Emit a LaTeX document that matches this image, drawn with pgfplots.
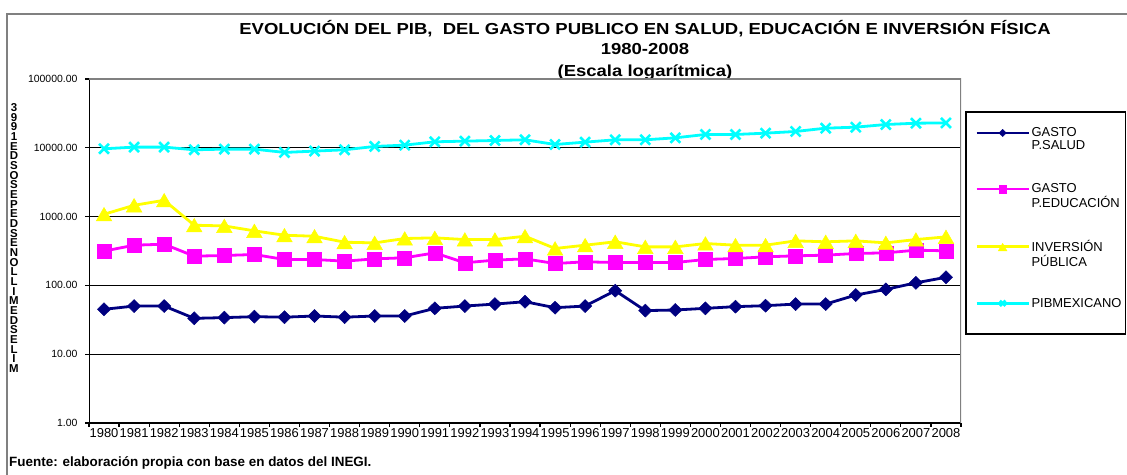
\documentclass[border=0pt]{standalone}
\usepackage{fontspec}
\setmainfont{Liberation Sans}
\usepackage{graphicx}
\usepackage{pgfplots}
\usepackage{pgfplotstable}
\pgfplotsset{compat=1.18}

\definecolor{cnavy}{RGB}{0,0,128}
\definecolor{cmag}{RGB}{255,0,255}
\definecolor{cyel}{RGB}{255,255,0}
\definecolor{ccyan}{RGB}{0,255,255}
\definecolor{frgray}{RGB}{128,128,128}

\pgfplotstableread{
idx salud educ inv pib
0 44.9 315 1081 9670
1 50.1 384 1459 10230
2 50.1 397 1725 10230
3 33.2 266 749 9350
4 34.0 272 732 9560
5 35.1 281 620 9560
6 34.5 238 536 8560
7 35.9 238 518 8950
8 34.5 225 424 9350
9 35.9 243 415 10460
10 35.9 252 480 10930
11 46.4 297 491 12220
12 50.1 213 464 12490
13 53.5 233 464 12770
14 57.9 243 518 13060
15 47.4 208 344 11170
16 50.1 220 384 12080
17 83.8 215 430 13060
18 43.0 215 363 13060
19 43.9 215 363 13960
20 46.4 238 406 15610
21 49.1 246 384 15610
22 50.7 260 384 16320
23 53.5 269 444 17260
24 53.5 275 430 19280
25 72.4 291 444 19950
26 87.5 297 415 21790
27 109 325 464 22770
28 131 318 507 23000
}\datatable

\begin{document}
\begin{tikzpicture}[x=1bp,y=1bp]
\path[use as bounding box] (0,0) rectangle (1127,475);
% outer frame
\draw[frgray, line width=1.5bp] (7,0) -- (7,461) -- (1127,461);
% titles
\node[anchor=base, font=\fontsize{16}{16}\selectfont\bfseries] at (645,440.7)
  {\scalebox{1.16}[1]{EVOLUCIÓN DEL PIB,\ \ DEL GASTO PUBLICO EN SALUD, EDUCACIÓN E INVERSIÓN FÍSICA}};
\node[anchor=base, font=\fontsize{16}{16}\selectfont\bfseries] at (645,420.5)
  {\scalebox{1.16}[1]{1980-2008}};
\node[anchor=base, font=\fontsize{16}{16}\selectfont\bfseries] at (645,398.5)
  {\scalebox{1.16}[1]{(Escala logarítmica)}};
% source
\node[anchor=base west, inner sep=0, font=\fontsize{13.5}{13.5}\selectfont\bfseries] at (9,8.3)
  {Fuente: elaboración propia con base en datos del INEGI.};
% y label (stacked letters)
\node[align=center, inner sep=0, font=\fontsize{11.5}{9.7}\selectfont\bfseries] at (14,237)
  {3\\9\\9\\1\\E\\D\\S\\O\\S\\E\\P\\E\\D\\S\\E\\N\\O\\L\\L\\I\\M\\E\\D\\S\\E\\L\\I\\M};
% legend box
\draw[black, line width=1.5bp] (966,141) rectangle (1125.5,363);

\begin{axis}[
  at={(89bp,52bp)}, anchor=south west,
  width=872bp, height=344bp, scale only axis,
  ymode=log, ymin=1, ymax=100000,
  xmin=-0.5, xmax=28.5,
  axis line style={draw=none},
  tick pos=left,
  tick align=outside,
  major tick length=4bp,
  every tick/.style={black, line width=1.2bp},
  ytick={1,10,100,1000,10000,100000},
  yticklabels={1.00,10.00,100.00,1000.00,10000.00,100000.00},
  yminorticks=false,
  ymajorgrids,
  major grid style={black, line width=0.7bp},
  xtick={-0.5,0.5,...,28.5},
  xticklabels={},
  extra x ticks={0,...,28},
  extra x tick labels={1980,1981,1982,1983,1984,1985,1986,1987,1988,1989,1990,1991,1992,1993,1994,1995,1996,1997,1998,1999,2000,2001,2002,2003,2004,2005,2006,2007,2008},
  extra x tick style={major tick length=0pt, xticklabel style={yshift=-4bp}},
  x tick label style={font=\fontsize{13}{13}\selectfont, inner sep=1bp},
  y tick label style={font=\fontsize{10.5}{10.5}\selectfont, xshift=-4bp},
  legend style={at={(1.0161,0.8634)}, anchor=north west, draw=none, fill=none,
    font=\fontsize{13}{13}\selectfont, row sep=42.5bp, inner sep=0pt,
    nodes={inner sep=1.5bp}},
  legend cell align=left,
  legend image code/.code={\draw[mark repeat=2,mark phase=2,#1] plot coordinates {(0bp,0bp) (26bp,0bp) (52bp,0bp)};},
  legend image post style={every mark/.append style={scale=0.55}},
]
\addplot[cnavy, line width=2.8bp, mark=diamond*, mark size=6.5bp,
  mark options={solid, xscale=1.35, line width=0.5bp}] table[x=idx, y=salud] {\datatable};
\addlegendentry{\begin{tabular}[t]{@{}l@{}}GASTO\\P.SALUD\end{tabular}}
\addplot[cmag, line width=2.8bp, mark=square*, mark size=7bp,
  mark options={solid, line width=0.5bp}] table[x=idx, y=educ] {\datatable};
\addlegendentry{\begin{tabular}[t]{@{}l@{}}GASTO\\P.EDUCACIÓN\end{tabular}}
\addplot[cyel, line width=2.8bp, mark=triangle*, mark size=9bp,
  mark options={solid, yshift=-2.2bp, line width=0.5bp}] table[x=idx, y=inv] {\datatable};
\addlegendentry{\begin{tabular}[t]{@{}l@{}}INVERSIÓN\\PÚBLICA\end{tabular}}
\addplot[ccyan, line width=2.8bp, mark=x, mark size=7bp,
  mark options={solid, line width=2.6bp}] table[x=idx, y=pib] {\datatable};
\addlegendentry{PIBMEXICANO}
\draw[black, line width=2bp] (rel axis cs:0,1) -- (rel axis cs:0,0) -- (rel axis cs:1,0);
\draw[frgray, line width=3bp] (rel axis cs:0,1) -- (rel axis cs:1,1) -- (rel axis cs:1,0);
\end{axis}
\end{tikzpicture}
\end{document}
